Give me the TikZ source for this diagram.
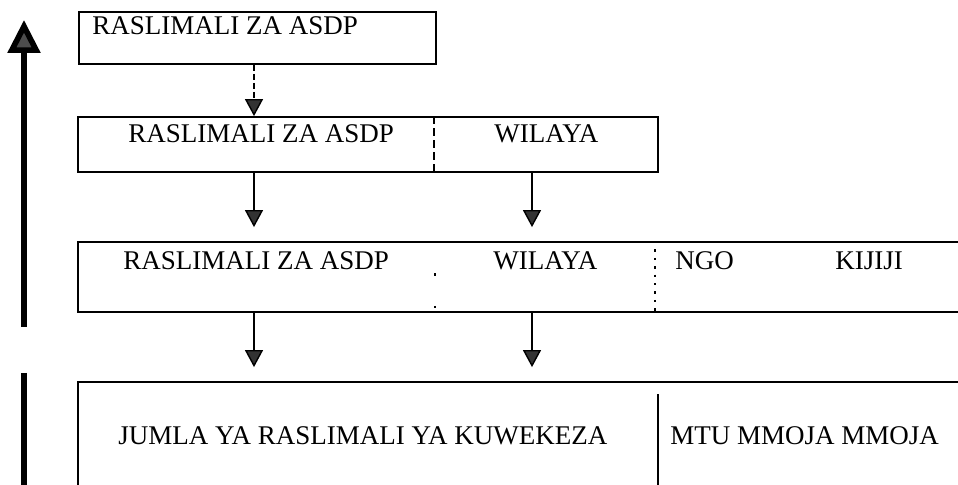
\documentclass[tikz,border=0pt]{standalone}
\usepackage{fontspec}
\setmainfont{Liberation Serif}
\usetikzlibrary{arrows.meta, positioning, fit}

\begin{document}
\begin{tikzpicture}[
    x=0.5pt, y=-0.5pt,
    box/.style={rectangle, draw=black, line width=0.9pt, inner sep=0pt},
    tag/.style={font=\fontsize{13.5}{15}\selectfont, inner sep=0pt, anchor=base west},
    line/.style={draw, line width=0.7pt, -{Triangle[width=9pt, length=8.5pt, fill=black!80]}, shorten >=7pt},
    dashline/.style={line, dash pattern=on 3pt off 1.5pt, shorten >=0pt},
    divider/.style={draw, line width=0.7pt, dash pattern=on 4pt off 2pt},
    dotdiv/.style={draw, line width=0.9pt, dash pattern=on 1.2pt off 3pt},
    sparsediv/.style={draw, line width=0.9pt, dash pattern=on 1.2pt off 15pt},
    rule/.style={draw, line width=0.8pt},
    bigarrow/.style={draw, line width=2.8pt, -{Triangle[width=16pt, length=16.5pt, fill=black!70]}}
]
\useasboundingbox (0,0) rectangle (958,485);
\clip (0,0) rectangle (958,485);

% Columns
\coordinate (colA) at (254,0);
\coordinate (colB) at (532,0);
\coordinate (div1) at (434,0);
\coordinate (div2) at (435,0);
\coordinate (div3) at (655,0);
\coordinate (div4) at (658,0);

% Boxes
\node[box, fit={(79,12) (436,64)}] (b1) {};
\node[box, fit={(78,117) (658,172)}] (b2) {};
\node[box, fit={(78,242) (975,312)}] (b3) {};
\node[box, fit={(78,382) (975,500)}] (b4) {};

% Labels
\node[tag] (t1) at (92,35) {RASLIMALI ZA ASDP};
\node[tag] (t2a) at (128,143) {RASLIMALI ZA ASDP};
\node[tag] (t2b) at (494,143) {WILAYA};
\node[tag] (t3a) at (123,270) {RASLIMALI ZA ASDP};
\node[tag] (t3b) at (493,270) {WILAYA};
\node[tag] (t3c) at (675,270) {NGO};
\node[tag] (t3d) at (835,270) {KIJIJI};
\node[tag] (t4a) at (118,445) {JUMLA YA RASLIMALI YA KUWEKEZA};
\node[tag] (t4b) at (670,445) {MTU MMOJA MMOJA};

% Dividers
\draw[divider] (b2.north -| div1) -- (b2.south -| div1);
\draw[sparsediv] (b3.north -| div2) -- (b3.south -| div2);
\draw[dotdiv] (b3.north -| div3) -- (b3.south -| div3);
\draw[rule] ([yshift=-6.5pt]b4.north -| div4) -- (b4.south -| div4);

% Connections
\draw[dashline] (b1.south -| colA) -- (b2.north -| colA);
\draw[line] (b2.south -| colA) -- (b3.north -| colA);
\draw[line] (b2.south -| colB) -- (b3.north -| colB);
\draw[line] (b3.south -| colA) -- (b4.north -| colA);
\draw[line] (b3.south -| colB) -- (b4.north -| colB);

% Side arrow
\coordinate (riseA) at (24,327);
\coordinate (riseB) at (24,20);
\coordinate (barA) at (24,373);
\coordinate (barB) at (24,495);
\draw[bigarrow] (riseA) -- (riseB);
\draw[line width=2.8pt] (barA) -- (barB);

\end{tikzpicture}
\end{document}
